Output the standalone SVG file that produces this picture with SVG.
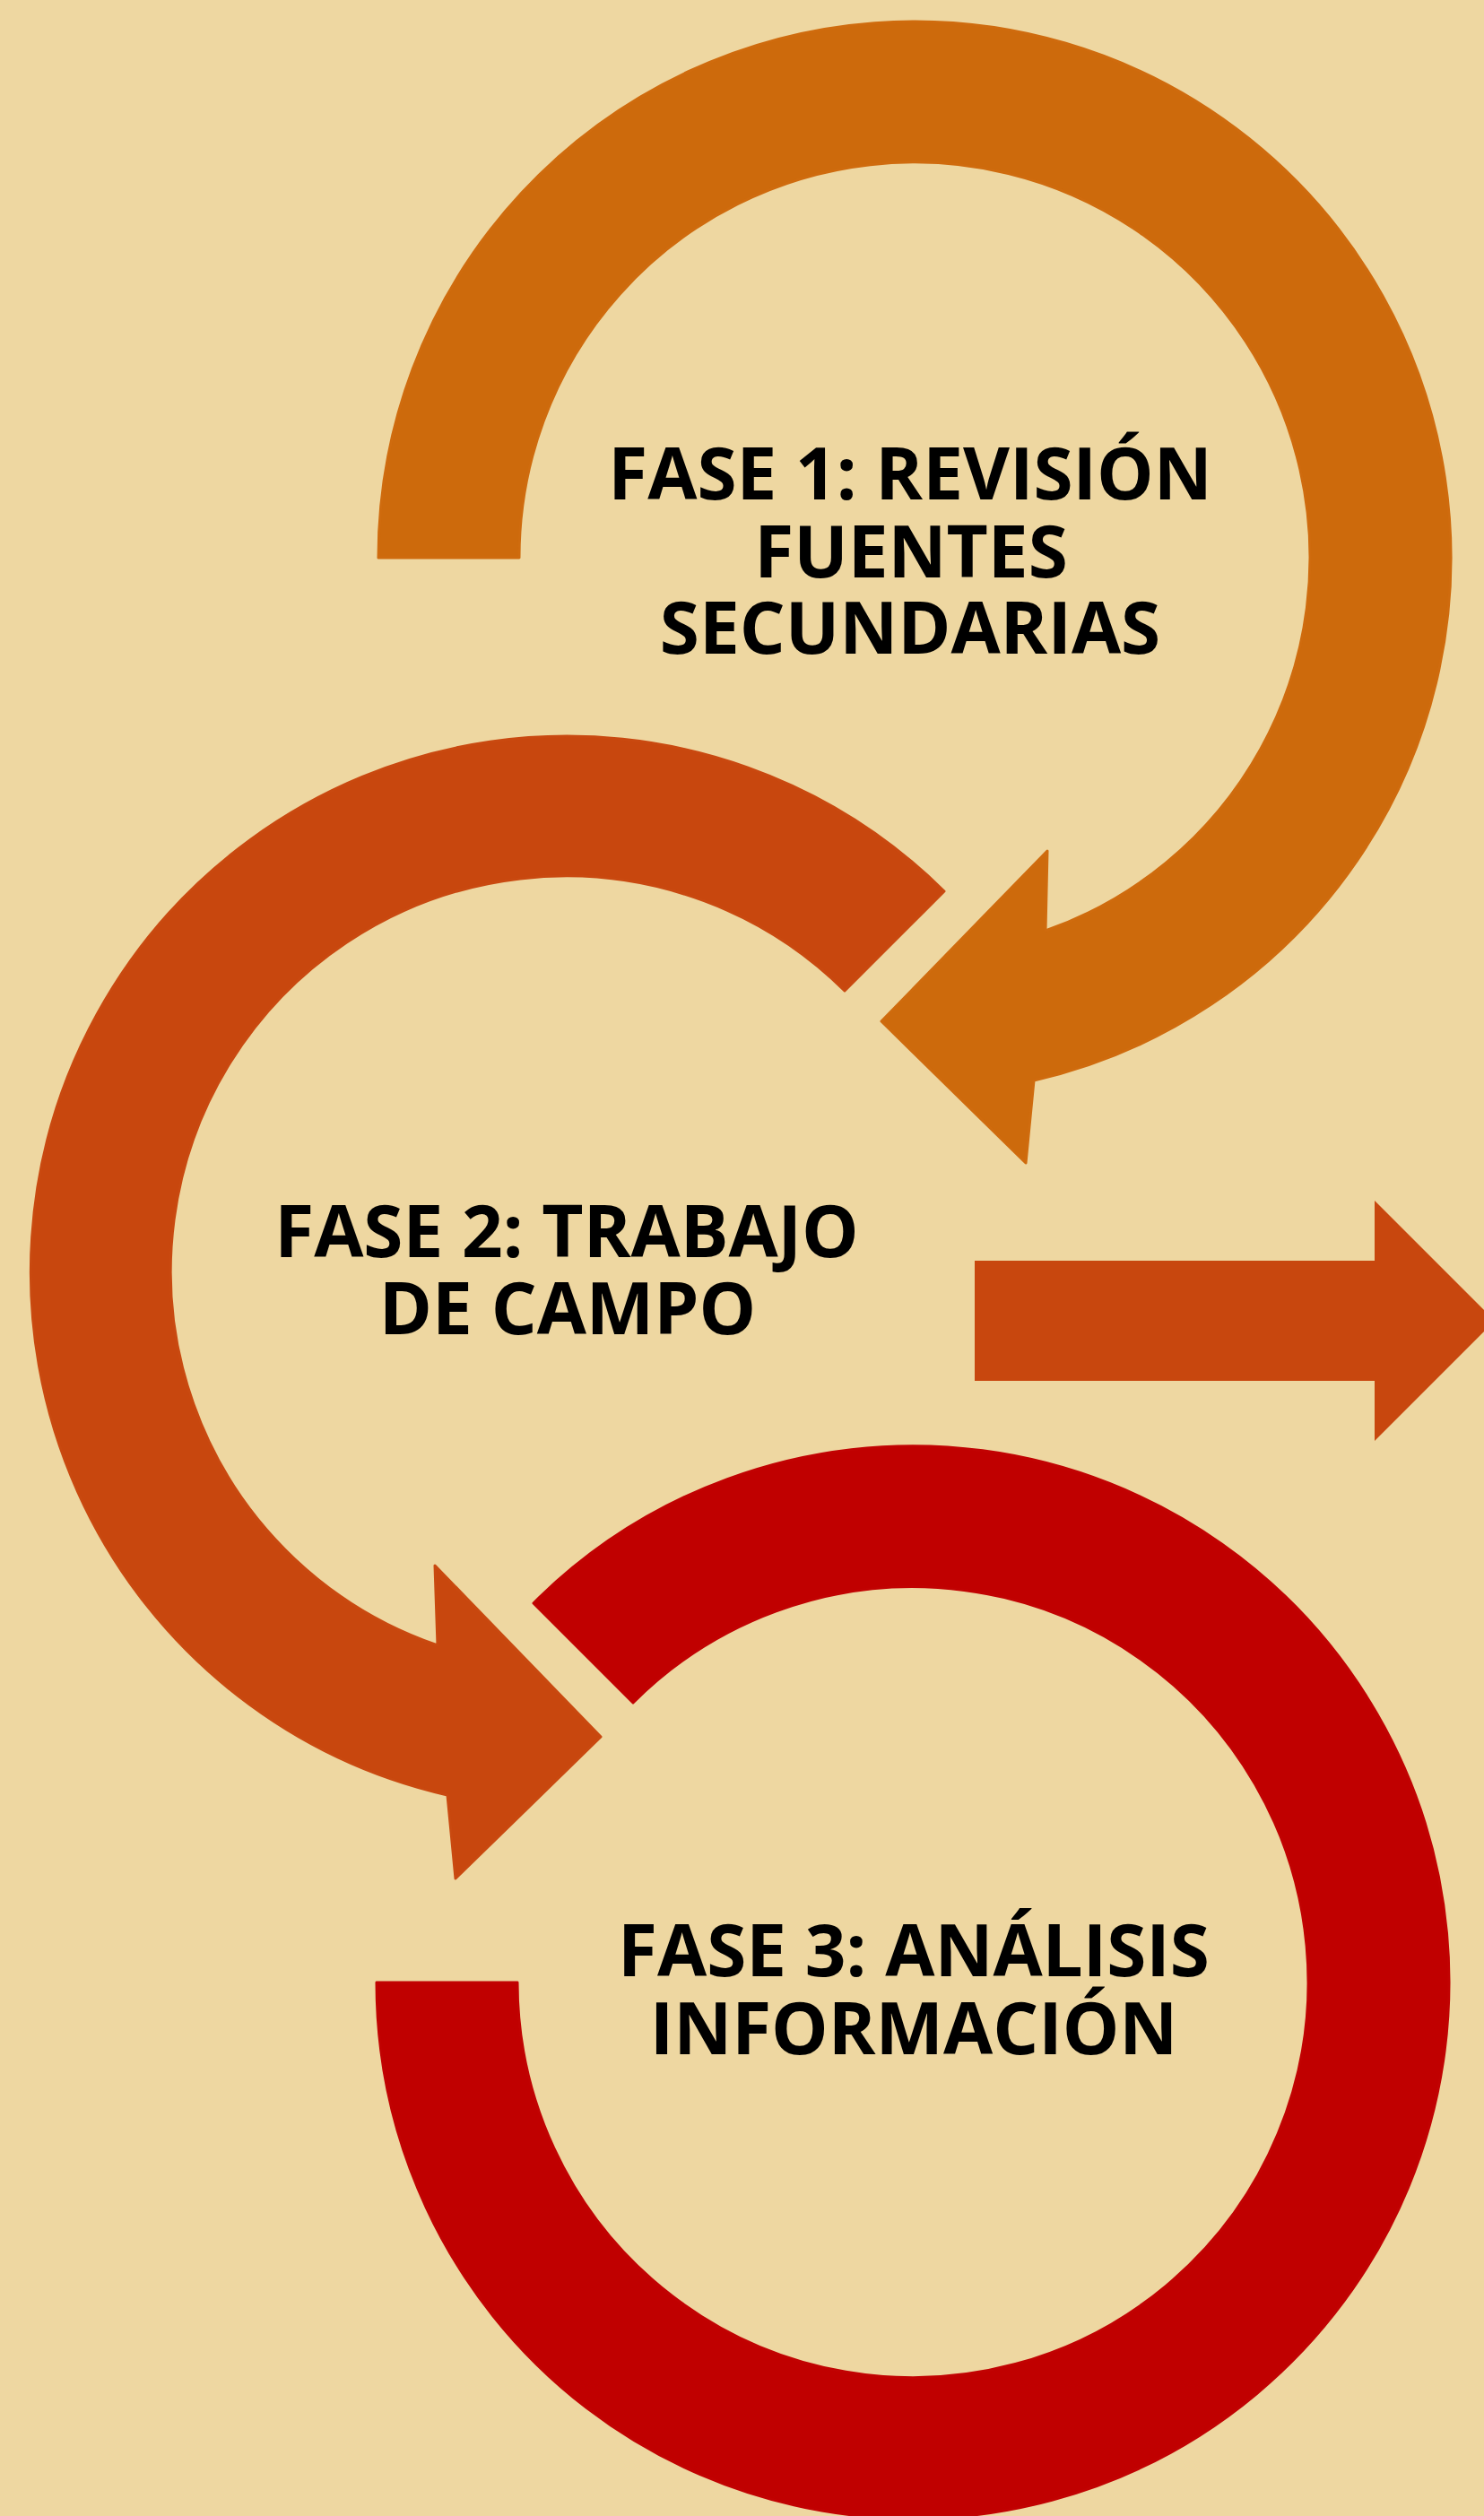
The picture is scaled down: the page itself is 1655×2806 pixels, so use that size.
<svg xmlns="http://www.w3.org/2000/svg" width="1655" height="2806" viewBox="0 0 1655 2806">
  <style>
    .lbl { font-family: "Open Sans", "Noto Sans", "Liberation Sans", sans-serif; font-weight: 700; font-size: 80px; fill: #000000; text-anchor: middle; }
    .shape { stroke-width: 3; stroke-linejoin: round; }
  </style>
  <rect x="0" y="0" width="1655" height="2806" fill="#EED7A1"/>
  <g id="connectors">
    <path id="arrow-right" d="M 1087 1406 L 1533 1406 L 1533 1339 L 1667 1473 L 1533 1607 L 1533 1540 L 1087 1540 Z" fill="#C8470E"/>
  </g>
  <g id="fase1">
    <path class="shape" d="M 422 622 A 598 598 0 1 1 1153 1205 L 1144 1297 L 983 1139 L 1168 949 L 1166 1038 A 441 441 0 1 0 579 622 Z" fill="#CD6A0C" stroke="#CF6B0E"/>
    <text class="lbl" x="1015" y="557">FASE 1: REVISIÓN</text>
    <text class="lbl" x="1016" y="644">FUENTES</text>
    <text class="lbl" x="1015" y="729">SECUNDARIAS</text>
  </g>
  <g id="fase2">
    <path class="shape" d="M 1053 994 A 598 598 0 1 0 499 2002 L 508 2095 L 670 1937 L 485 1746 L 488 1835 A 441 441 0 1 1 942 1105 Z" fill="#C8470E" stroke="#C94910"/>
    <text class="lbl" x="632" y="1402">FASE 2: TRABAJO</text>
    <text class="lbl" x="633" y="1488">DE CAMPO</text>
  </g>
  <g id="fase3">
    <path class="shape" d="M 595 1788 A 598 598 0 1 1 420 2211 L 577 2211 A 441 441 0 1 0 706 1899 Z" fill="#C00000" stroke="#C10202"/>
    <text class="lbl" x="1019" y="2204">FASE 3: ANÁLISIS</text>
    <text class="lbl" x="1019" y="2291">INFORMACIÓN</text>
  </g>
</svg>
